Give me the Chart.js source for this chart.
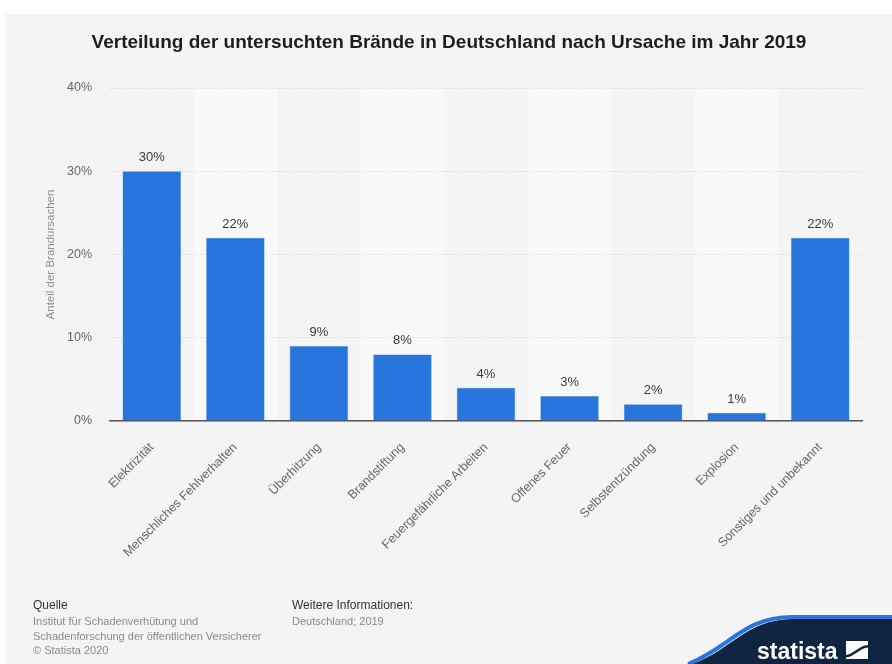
<!DOCTYPE html>
<html lang="de">
  <head>
    <meta charset="UTF-8">
    <title>Verteilung der untersuchten Brände in Deutschland nach Ursache im Jahr 2019</title>
    <script src="https://cdn.jsdelivr.net/npm/chart.js"></script>
    <style>
      html, body {
        margin: 0;
        padding: 0;
        background: #ffffff;
      }
      #wrap {
        position: relative;
        width: 892px;
        height: 664px;
      }
    </style>
  </head>
  <body>
    <div id="wrap">
      <canvas id="fireChart" width="892" height="664"></canvas>
    </div>
    <script>
      // Data
      const causes = [
        'Elektrizität',
        'Menschliches Fehlverhalten',
        'Überhitzung',
        'Brandstiftung',
        'Feuergefährliche Arbeiten',
        'Offenes Feuer',
        'Selbstentzündung',
        'Explosion',
        'Sonstiges und unbekannt'
      ];
      const shares = [30, 22, 9, 8, 4, 3, 2, 1, 22];
      const yTicks = [0, 10, 20, 30, 40];

      const chartTitle = 'Verteilung der untersuchten Brände in Deutschland nach Ursache im Jahr 2019';
      const sourceLines = ['Institut für Schadenverhütung und', 'Schadenforschung der öffentlichen Versicherer', '© Statista 2020'];
      const infoLines = ['Deutschland; 2019'];

      const FONT = '"Liberation Sans", Arial, sans-serif';
      const BAR_BLUE = '#2876dd';

      // page background, title, alternating column bands
      const backdrop = {
        id: 'backdrop',
        beforeDraw(chart) {
          const { ctx, chartArea, scales } = chart;
          ctx.save();
          ctx.fillStyle = '#ffffff';
          ctx.fillRect(0, 0, chart.width, chart.height);
          ctx.fillStyle = '#f4f4f4';
          ctx.fillRect(5, 14, chart.width - 5, chart.height - 14);

          // lighter bands behind every second category
          const x = scales.x;
          const step = (chartArea.right - chartArea.left) / causes.length;
          ctx.fillStyle = '#f9f9f9';
          causes.forEach((c, i) => {
            if (i % 2 === 1) {
              const cx = x.getPixelForValue(i);
              ctx.fillRect(cx - step / 2, chartArea.top, step, chartArea.bottom - chartArea.top);
            }
          });

          ctx.fillStyle = '#1e1e1e';
          ctx.font = 'bold 19px ' + FONT;
          ctx.textAlign = 'center';
          ctx.textBaseline = 'middle';
          ctx.fillText(chartTitle, 449, 43);
          ctx.restore();
        }
      };

      // value labels above the bars, footer, logo
      const extras = {
        id: 'extras',
        afterDraw(chart) {
          const { ctx } = chart;
          const meta = chart.getDatasetMeta(0);
          ctx.save();
          ctx.fillStyle = '#3a3a3a';
          ctx.font = '13px ' + FONT;
          ctx.textAlign = 'center';
          ctx.textBaseline = 'bottom';
          meta.data.forEach((bar, i) => {
            ctx.fillText(shares[i] + '%', bar.x, bar.y - 7);
          });

          // footer
          ctx.textAlign = 'left';
          ctx.textBaseline = 'middle';
          ctx.fillStyle = '#333333';
          ctx.font = '12px ' + FONT;
          ctx.fillText('Quelle', 33, 606);
          ctx.fillText('Weitere Informationen:', 292, 606);
          ctx.fillStyle = '#8a8a8a';
          ctx.font = '11px ' + FONT;
          sourceLines.forEach((t, i) => ctx.fillText(t, 33, 622 + i * 14.5));
          infoLines.forEach((t, i) => ctx.fillText(t, 292, 622 + i * 14.5));

          // statista logo
          ctx.beginPath();
          ctx.moveTo(692, 664);
          ctx.bezierCurveTo(732, 650, 745, 620, 792, 619);
          ctx.lineTo(892, 619);
          ctx.lineTo(892, 664);
          ctx.closePath();
          ctx.fillStyle = '#0f2440';
          ctx.fill();
          ctx.beginPath();
          ctx.moveTo(688, 664);
          ctx.bezierCurveTo(730, 648, 743, 617, 792, 617);
          ctx.lineTo(892, 617);
          ctx.strokeStyle = '#2876dd';
          ctx.lineWidth = 4;
          ctx.stroke();

          ctx.fillStyle = '#ffffff';
          ctx.font = 'bold 23px ' + FONT;
          ctx.textBaseline = 'alphabetic';
          ctx.fillText('statista', 757, 659);
          // icon
          ctx.fillRect(846, 641, 22, 18);
          ctx.fillStyle = '#0f2440';
          ctx.beginPath();
          ctx.moveTo(846, 655);
          ctx.bezierCurveTo(852, 655, 860, 645, 868, 645);
          ctx.lineTo(868, 647.5);
          ctx.bezierCurveTo(861, 647.5, 853, 657.5, 846, 657.5);
          ctx.closePath();
          ctx.fill();
          ctx.restore();
        }
      };

      const ctx = document.getElementById('fireChart').getContext('2d');
      new Chart(ctx, {
        type: 'bar',
        data: {
          labels: causes,
          datasets: [{
            data: shares,
            backgroundColor: BAR_BLUE,
            borderColor: '#4a8ce4',
            borderWidth: 0.5,
            categoryPercentage: 0.7,
            barPercentage: 1.0
          }]
        },
        options: {
          responsive: false,
          animation: false,
          layout: {
            padding: { left: 0, top: 88, right: 30, bottom: 0 }
          },
          plugins: {
            legend: { display: false },
            tooltip: { enabled: false },
            title: { display: false }
          },
          scales: {
            x: {
              afterFit(scale) { scale.height = 243; },
              grid: { display: false },
              border: { display: true, color: '#555555', width: 1.5 },
              ticks: {
                minRotation: 45,
                maxRotation: 45,
                autoSkip: false,
                padding: 11,
                color: '#666666',
                font: { family: FONT, size: 12.5 }
              }
            },
            y: {
              min: 0,
              max: 40,
              afterFit(scale) { scale.width = 110; },
              afterBuildTicks(scale) {
                scale.ticks = yTicks.map(v => ({ value: v }));
              },
              border: { display: false, dash: [1, 2] },
              grid: {
                color: '#cfcfcf',
                drawTicks: false
              },
              ticks: {
                padding: 18,
                color: '#666666',
                font: { family: FONT, size: 12.5 },
                callback: v => v + '%'
              },
              title: {
                display: true,
                text: 'Anteil der Brandursachen',
                color: '#8f8f8f',
                font: { family: FONT, size: 11.5 },
                padding: { top: 44, bottom: 0 }
              }
            }
          }
        },
        plugins: [backdrop, extras]
      });
    </script>
  </body>
</html>
